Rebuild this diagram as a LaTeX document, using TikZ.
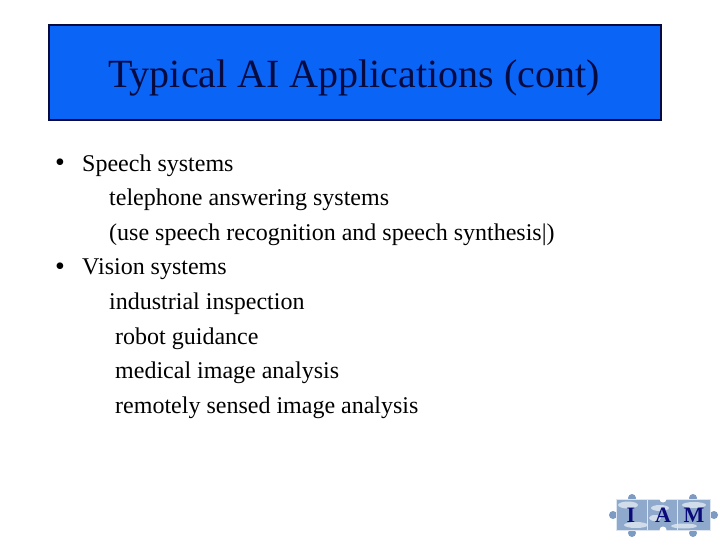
\documentclass[tikz,border=0pt]{standalone}
\usepackage{fontspec}
\setmainfont{Liberation Serif}
\definecolor{bannerblue}{HTML}{0A64F5}
\definecolor{inkblue}{HTML}{050A40}
\definecolor{navyletter}{HTML}{0A0A78}
\definecolor{skyblue}{HTML}{8FA9CC}
\definecolor{skylight}{HTML}{DCE5F0}
\definecolor{skydark}{HTML}{7C9AC2}
\tikzset{
  x=1pt,y=-1pt,
  bodytext/.style={anchor=base west,inner sep=0pt,font=\fontsize{24}{24}\selectfont,text=black},
  bullettext/.style={anchor=base west,inner sep=0pt,font=\fontsize{28}{28}\selectfont,text=black},
  logoletter/.style={anchor=base,inner sep=0pt,font=\fontsize{22}{22}\selectfont\bfseries,text=navyletter},
  knob/.style={fill=skydark,draw=none},
  piece/.style={fill=skyblue,draw=skylight,line width=0.5pt},
  cloud/.style={fill=skylight,draw=none,opacity=0.85}
}
\begin{document}
\begin{tikzpicture}
\useasboundingbox (0,0) rectangle (720,540);
\fill[white] (0,0) rectangle (720,540);
\node[draw=inkblue,fill=bannerblue,line width=1.6pt,minimum width=612pt,minimum height=95pt,inner sep=0pt,anchor=north west] (banner) at (48,24.5) {};
\node[anchor=base,inner sep=0pt,font=\fontsize{40}{40}\selectfont,text=inkblue] (title) at (354,88) {Typical AI Applications (cont)};
\node[bullettext] (b1) at (55,172) {•};
\node[bodytext] (t1) at (82,171.5) {Speech systems};
\node[bodytext] (t2) at (109,205.5) {telephone answering systems};
\node[bodytext] (t3) at (109,240.5) {(use speech recognition and speech synthesis|)};
\node[bullettext] (b2) at (55,275.5) {•};
\node[bodytext] (t4) at (82,274.5) {Vision systems};
\node[bodytext] (t5) at (109,309) {industrial inspection};
\node[bodytext] (t6) at (115,344) {robot guidance};
\node[bodytext] (t7) at (115,378) {medical image analysis};
\node[bodytext] (t8) at (115,413) {remotely sensed image analysis};
% logo
\fill[knob] (632,498) circle (4);
\fill[knob] (693,498) circle (4);
\fill[knob] (632,533) circle (4);
\fill[knob] (693,533) circle (4);
\fill[knob] (613,515) circle (4);
\fill[knob] (714,515) circle (4);
\draw[piece] (616,499) rectangle (647,530);
\draw[piece] (647,499) rectangle (677,530);
\draw[piece] (677,499) rectangle (710,530);
\fill[white] (663,499) circle (3.5);
\fill[white] (663,530) circle (3.5);
\fill[cloud] (628,505) ellipse (10 and 3.5);
\fill[cloud] (660,508) ellipse (9 and 3);
\fill[cloud] (694,505) ellipse (12 and 3);
\fill[cloud] (636,525) ellipse (12 and 3);
\fill[cloud] (684,526) ellipse (13 and 2.5);
\fill[cloud] (655,518) ellipse (6 and 3);
\node[logoletter] (li) at (631,522) {I};
\node[logoletter] (la) at (663,522) {A};
\node[logoletter] (lm) at (694,522) {M};
\end{tikzpicture}
\end{document}
